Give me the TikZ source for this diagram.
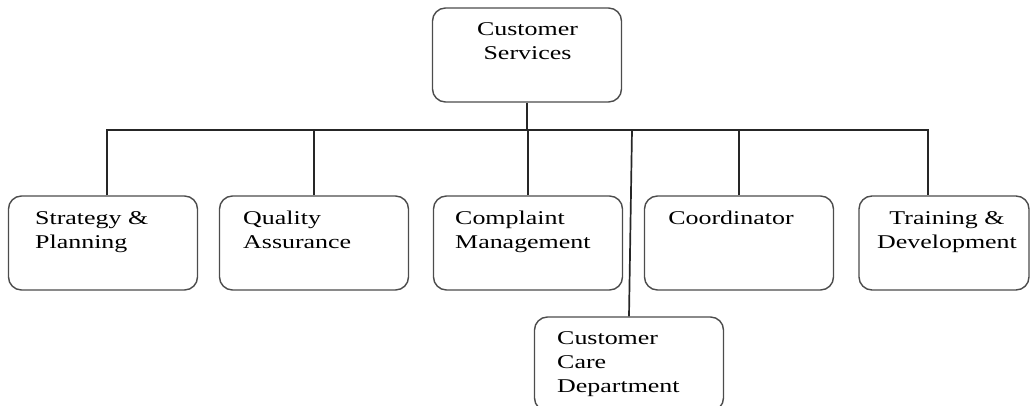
\documentclass[tikz,border=0pt]{standalone}
\usepackage{fontspec}
\setmainfont{Liberation Serif}[FakeStretch=1.33]
\usetikzlibrary{calc}
\tikzset{
    unit box/.style={draw=black!70,line width=1.4pt,rounded corners=13pt,
        minimum width=189pt,minimum height=94pt,inner sep=0pt},
    unit text/.style={inner sep=0pt,font=\fontsize{19.5}{24}\selectfont},
    link/.style={draw=black!85,line width=1.7pt}
}
\begin{document}
\begin{tikzpicture}[x=1pt,y=-1pt]
\useasboundingbox (0,0) rectangle (1031,406);
% boxes
\node[unit box] (cs) at (527,55) {};
\node[unit box] (sp) at (103,243) {};
\node[unit box] (qa) at (314,243) {};
\node[unit box] (cm) at (528,243) {};
\node[unit box] (co) at (739,243) {};
\node[unit box,minimum width=170pt] (td) at (944,243) {};
\node[unit box] (cc) at (629,364) {};
% texts
\begin{scope}[every node/.style={unit text}]
    \node[anchor=north,align=center] (cs text) at (527.5,22) {Customer\\Services};
    \node[anchor=north west,align=left] (sp text) at (35,211) {Strategy \&\\Planning};
    \node[anchor=north west,align=left] (qa text) at (243,211) {Quality\\Assurance};
    \node[anchor=north west,align=left] (cm text) at (455,211) {Complaint\\Management};
    \node[anchor=north,align=center] (co text) at (731,211) {Coordinator};
    \node[anchor=north,align=center] (td text) at (947,211) {Training \&\\Development};
    \node[anchor=north west,align=left] (cc text) at (557,331) {Customer\\Care\\Department};
\end{scope}
% connectors
\coordinate (bus) at (0,130);
\draw[link] (cs.south) -- (cs.south |- bus);
\draw[link] ([xshift=4pt]sp.north) |- ([xshift=-16pt]td.north |- bus) -- ([xshift=-16pt]td.north);
\foreach \n in {qa,cm,co}
    \draw[link] (\n.north) -- (\n.north |- bus);
\draw[link] (cc.north) -- ([xshift=3pt]cc.north |- bus);
\end{tikzpicture}
\end{document}
